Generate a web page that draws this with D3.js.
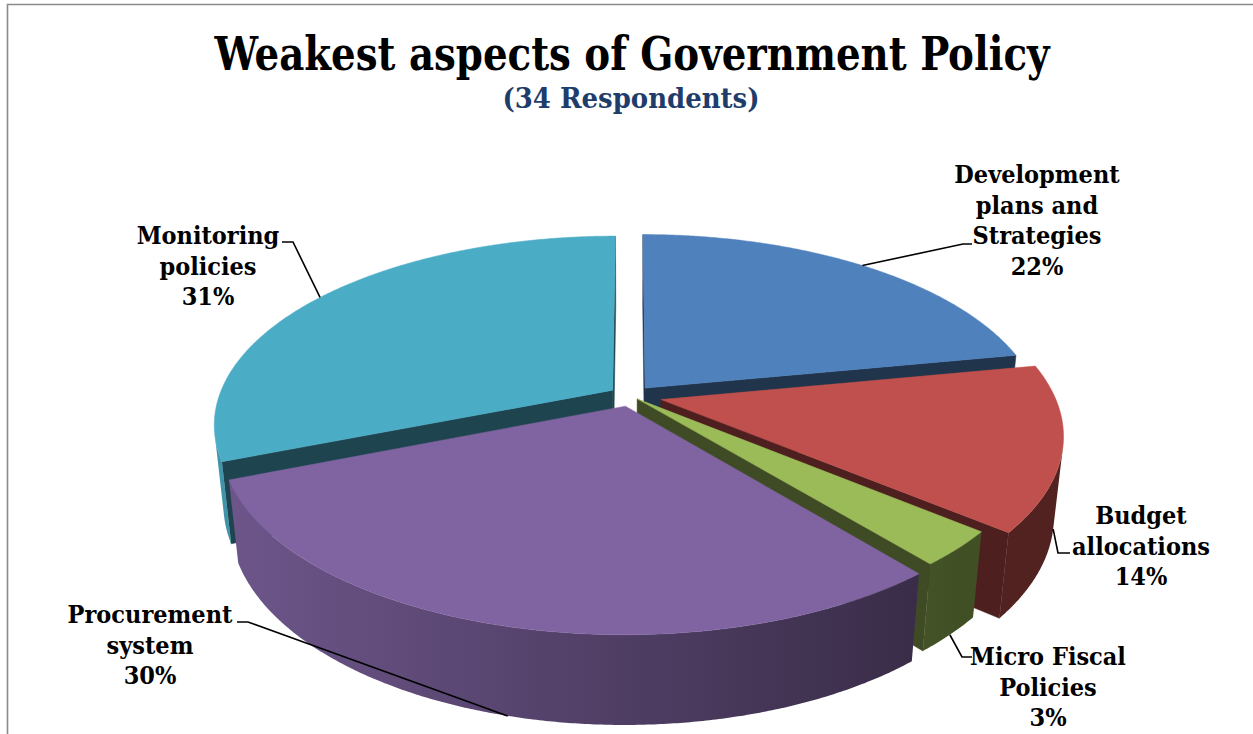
<!DOCTYPE html>
<html>
<head>
<meta charset="utf-8">
<script src="https://cdn.jsdelivr.net/npm/d3@7"></script>
<style>
  html, body { margin: 0; padding: 0; background: #ffffff; }
  svg { display: block; }
  .lbl { font-family: "DejaVu Serif Condensed", "DejaVu Serif", serif; font-weight: bold; }
</style>
</head>
<body>
<svg id="chart" width="1253" height="734"></svg>
<script>
// ---- data ----
const categories = ["Development plans and Strategies", "Budget allocations", "Micro Fiscal Policies", "Procurement system", "Monitoring policies"];
const labelLines = [["Development", "plans and", "Strategies"], ["Budget", "allocations"], ["Micro Fiscal", "Policies"], ["Procurement", "system"], ["Monitoring", "policies"]];
const shares = [22, 14, 3, 30, 31];
const colors = ["#4F81BD", "#C0504D", "#9BBB59", "#8064A2", "#4BACC6"];
const titleText = "Weakest aspects of Government Policy";
const subtitleText = "(34 Respondents)";

// ---- label layout: text centre, first baseline, leader elbow and end ----
const labelLayout = [
  { x: 1037, y: 183, elbow: [963, 244], end: [972, 244] },
  { x: 1141, y: 524, elbow: [1058, 553], end: [1070, 553] },
  { x: 1048, y: 665, elbow: [962, 657], end: [972, 657] },
  { x: 150,  y: 623, elbow: [248, 622], end: [237, 622] },
  { x: 208,  y: 244, elbow: [293, 242], end: [282, 242] }
];
const lineHeight = 30.5;

// ---- 3D view of the pie (unit radius, perspective camera) ----
const view = { cx: 631, cy: 396, f: 1945, dist: 4.94, elev: 27.8 * Math.PI / 180, height: 0.2307 };
// how far each slice is pulled out from the centre
const explodeBySlice = [0.0564, 0.078, 0.022, 0.0564, 0.0564];
const sE = Math.sin(view.elev), cE = Math.cos(view.elev);
const camY = -view.dist * cE;

function project(X, Y, Z) {
  const dep = view.dist + Y * cE - Z * sE;
  return [view.cx + view.f * X / dep, view.cy - view.f * (Y * sE + Z * cE) / dep];
}

const svg = d3.select("#chart");
const defs = svg.append("defs");

// frame
svg.append("path")
  .attr("d", "M7.5,734 L7.5,4.5 L1253,4.5")
  .attr("fill", "none").attr("stroke", "#8a8a8a").attr("stroke-width", 1.6);

const data = categories.map((c, i) => ({ name: c, value: shares[i], color: colors[i], lines: labelLines[i], layout: labelLayout[i] }));
const arcs = d3.pie().sort(null).value(d => d.value).startAngle(0).endAngle(2 * Math.PI)(data);

arcs.forEach((a, i) => {
  a.mid = (a.startAngle + a.endAngle) / 2;
  a.ox = explodeBySlice[i] * Math.sin(a.mid);
  a.oy = explodeBySlice[i] * Math.cos(a.mid);
  a.idx = i;
});

const rim = (a, t, Z) => project(a.ox + Math.sin(t), a.oy + Math.cos(t), Z);
const hub = (a, Z) => project(a.ox, a.oy, Z);
const sideVisible = (a, t) => (-1 - a.ox * Math.sin(t) - (view.dist * cE + a.oy) * Math.cos(t)) > 0;
const line = d3.line();

function shade(hex, k) {
  const c = d3.rgb(hex);
  return d3.rgb(c.r * k, c.g * k, c.b * k).formatHex();
}

function samples(t1, t2) {
  const n = Math.max(2, Math.ceil((t2 - t1) / (0.4 * Math.PI / 180)));
  return d3.range(n + 1).map(k => t1 + (t2 - t1) * k / n);
}

// side gradients
arcs.forEach(a => {
  const g = defs.append("linearGradient")
    .attr("id", "side" + a.idx)
    .attr("gradientUnits", "userSpaceOnUse")
    .attr("x1", 215).attr("y1", 0).attr("x2", 960).attr("y2", 0);
  g.append("stop").attr("offset", 0).attr("stop-color", shade(a.data.color, 0.86));
  g.append("stop").attr("offset", 1).attr("stop-color", shade(a.data.color, 0.42));
});

const Hd = -view.height;
const pieG = svg.append("g");

// paint slices from back to front
const order = arcs.slice().sort((p, q) => Math.cos(q.mid) - Math.cos(p.mid));
order.forEach(a => {
  const g = pieG.append("g");
  const dark = shade(a.data.color, 0.4);
  const t1 = a.startAngle, t2 = a.endAngle;

  // radial cut faces
  const startVis = Math.cos(t1) * a.ox + Math.sin(t1) * (camY - a.oy) > 0;
  const endVis = -Math.cos(t2) * a.ox - Math.sin(t2) * (camY - a.oy) > 0;
  [[t1, startVis], [t2, endVis]].forEach(([t, vis]) => {
    if (!vis) return;
    g.append("path")
      .attr("d", line([hub(a, 0), rim(a, t, 0), rim(a, t, Hd), hub(a, Hd)]) + "Z")
      .attr("fill", dark).attr("stroke", dark).attr("stroke-width", 0.5);
  });

  // outer curved wall (visible part only)
  const vis = samples(t1, t2).filter(t => sideVisible(a, t));
  if (vis.length > 1) {
    const top = vis.map(t => rim(a, t, 0));
    const bot = vis.slice().reverse().map(t => rim(a, t, Hd));
    g.append("path")
      .attr("d", line(top.concat(bot)) + "Z")
      .attr("fill", "url(#side" + a.idx + ")");
  }

  // top face
  const topPts = [hub(a, 0)].concat(samples(t1, t2).map(t => rim(a, t, 0)));
  g.append("path")
    .attr("d", line(topPts) + "Z")
    .attr("fill", a.data.color).attr("stroke", a.data.color).attr("stroke-width", 0.5);
});

// leader lines
const leaderG = svg.append("g");
arcs.forEach(a => {
  const anchor = sideVisible(a, a.mid) ? rim(a, a.mid, Hd) : rim(a, a.mid, 0);
  const L = a.data.layout;
  leaderG.append("path")
    .attr("d", line([anchor, L.elbow, L.end]))
    .attr("fill", "none").attr("stroke", "#000").attr("stroke-width", 1.6);
});

// data labels
const labelG = svg.append("g");
arcs.forEach(a => {
  const L = a.data.layout;
  const rows = a.data.lines.concat([Math.round(a.data.value) + "%"]);
  const t = labelG.append("text").attr("class", "lbl")
    .attr("text-anchor", "middle").attr("font-size", 25).attr("fill", "#000");
  rows.forEach((r, k) => {
    t.append("tspan").attr("x", L.x).attr("y", L.y + k * lineHeight).text(r);
  });
});

// titles
svg.append("text").attr("class", "lbl")
  .attr("x", 632).attr("y", 70).attr("text-anchor", "middle")
  .attr("font-size", 46).attr("fill", "#000")
  .attr("textLength", 835).attr("lengthAdjust", "spacingAndGlyphs")
  .text(titleText);
svg.append("text").attr("class", "lbl")
  .attr("x", 631).attr("y", 108).attr("text-anchor", "middle")
  .attr("font-size", 28).attr("fill", "#1F3D6B")
  .attr("textLength", 257).attr("lengthAdjust", "spacingAndGlyphs")
  .text(subtitleText);
</script>
</body>
</html>
